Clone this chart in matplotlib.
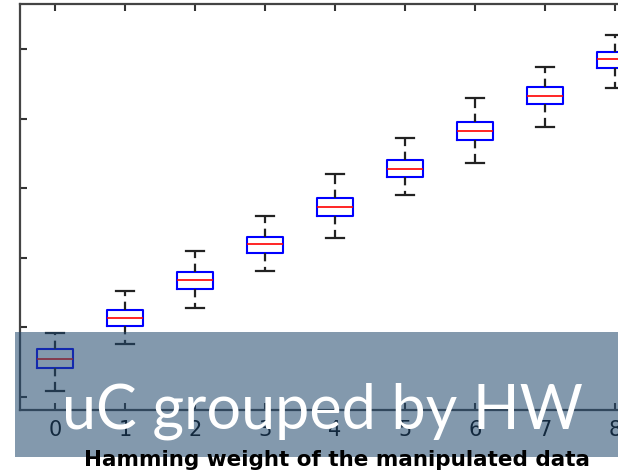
import numpy as np
import matplotlib
matplotlib.use("Agg")
import matplotlib.pyplot as plt
from matplotlib.patches import Rectangle

# boxplot statistics per Hamming weight (arbitrary units)
hw = [0, 1, 2, 3, 4, 5, 6, 7, 8]
whislo = [0.09, 0.76, 1.28, 1.81, 2.28, 2.90, 3.36, 3.88, 4.44]
q1 = [0.42, 1.02, 1.55, 2.07, 2.60, 3.16, 3.69, 4.21, 4.73]
med = [0.55, 1.14, 1.68, 2.20, 2.73, 3.28, 3.82, 4.32, 4.86]
q3 = [0.69, 1.25, 1.80, 2.30, 2.86, 3.41, 3.95, 4.45, 4.96]
whishi = [0.92, 1.52, 2.10, 2.60, 3.20, 3.72, 4.30, 4.74, 5.20]
yticks = [0, 1, 2, 3, 4, 5]

xlabel = "Hamming weight of the manipulated data"
title = "uC grouped by HW"

plt.rcParams["lines.scale_dashes"] = False

fig = plt.figure(figsize=(6.18, 4.75), dpi=100)
ax = fig.add_axes([20 / 618, 1 - 410 / 475, 630 / 618, 406 / 475])

stats = []
for i in range(len(hw)):
    stats.append(dict(whislo=whislo[i], q1=q1[i], med=med[i], q3=q3[i], whishi=whishi[i]))

ax.bxp(
    stats,
    positions=hw,
    widths=0.51,
    capwidths=0.27,
    showfliers=False,
    boxprops=dict(color="blue", lw=1.5),
    medianprops=dict(color="red", lw=1.2),
    whiskerprops=dict(color="#222222", lw=1.6, linestyle=(3, (9, 4))),
    capprops=dict(color="#222222", lw=1.6),
)

ax.set_xlim(-0.5, 8.5)
ax.set_ylim(-0.19, 5.65)
ax.set_xticks(hw)
ax.set_xticklabels([str(h) for h in hw], fontsize=15, family="DejaVu Sans")
ax.set_yticks(yticks)
ax.set_yticklabels([])
ax.tick_params(direction="in", length=5, width=1.5, color="#333333", top=True, right=True, pad=7)
for s in ax.spines.values():
    s.set_color("#444444")
    s.set_linewidth(1.6)

fig.text(337 / 618, 1 - 460 / 475, xlabel, ha="center", va="center",
         fontsize=15.5, family="DejaVu Sans", weight="bold", color="black", zorder=5)

fig.patches.append(Rectangle((15 / 618, 1 - 457 / 475), 1.0, 125 / 475,
                             transform=fig.transFigure, facecolor=(35 / 255, 74 / 255, 111 / 255),
                             alpha=0.565, edgecolor="none", zorder=3))

fig.text(322 / 618, 1 - 428 / 475, title, ha="center", va="baseline",
         fontsize=44, family="Lato", color="white", zorder=6)

fig.savefig("out.png", dpi=100)
